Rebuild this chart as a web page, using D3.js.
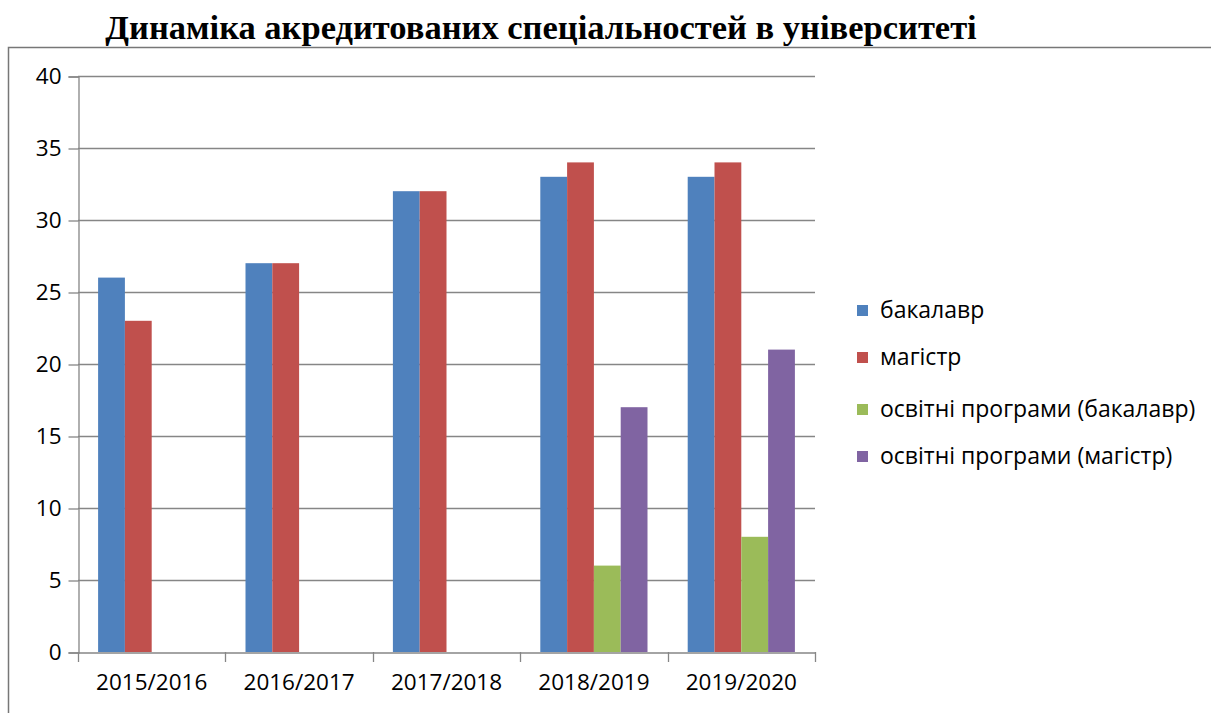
<!DOCTYPE html>
<html>
<style>
    body {
      margin: 0;
      overflow: hidden;
      background: white;
    }
    text {
      font-family: "Open Sans", "Noto Sans", sans-serif;
    }
</style>
<script src="https://cdn.jsdelivr.net/npm/d3@7"></script>
<svg></svg>
<script>
var years = ["2015/2016", "2016/2017", "2017/2018", "2018/2019", "2019/2020"];
var seriesNames = ["бакалавр", "магістр", "освітні програми (бакалавр)", "освітні програми (магістр)"];
var bachelor = [26, 27, 32, 33, 33];
var master = [23, 27, 32, 34, 34];
var progBachelor = [0, 0, 0, 6, 8];
var progMaster = [0, 0, 0, 17, 21];
var yTicks = [0, 5, 10, 15, 20, 25, 30, 35, 40];
var colors = ["#4F81BD", "#C0504D", "#9BBB59", "#8064A2"];

var allSeries = [bachelor, master, progBachelor, progMaster];

var width = 1211,
    height = 713;

var plotLeft = 78, plotRight = 815, plotTop = 76, plotBottom = 652;

var svg = d3.select("svg")
    .attr("width", width)
    .attr("height", height);

// frame of the page around chart
svg.append("path")
    .attr("d", "M8.5,713 V47.5 H1211")
    .style("fill", "none")
    .style("stroke", "#777")
    .style("stroke-width", 1.5);

svg.append("text")
    .attr("x", 541)
    .attr("y", 39)
    .attr("text-anchor", "middle")
    .style("font-family", "'Liberation Serif', 'DejaVu Serif', serif")
    .style("font-weight", "bold")
    .style("font-size", "34.5px")
    .text("Динаміка акредитованих спеціальностей в університеті");

var x = d3.scaleBand().domain(years).range([plotLeft, plotRight]);
var barW = x.bandwidth() / 5.5;
var x1 = d3.scaleBand().domain(d3.range(4)).range([barW * 0.75, barW * 4.75]);
var y = d3.scaleLinear().domain([0, 40]).range([plotBottom, plotTop]);

// gridlines
svg.append("g")
    .selectAll("line")
    .data(yTicks.slice(1))
  .enter().append("line")
    .attr("x1", plotLeft)
    .attr("x2", plotRight)
    .attr("y1", function(d) {return y(d) + 0.5})
    .attr("y2", function(d) {return y(d) + 0.5})
    .style("stroke", "#868686")
    .style("stroke-width", 1.3);

var yAxis = svg.append("g")
    .attr("transform", "translate(" + (plotLeft + 0.5) + ",0.5)")
    .call(d3.axisLeft(y).tickValues(yTicks).tickSize(10).tickPadding(7));

var xAxis = svg.append("g")
    .attr("transform", "translate(0," + (plotBottom + 0.5) + ")")
    .call(d3.axisBottom(x).tickSize(0).tickPadding(22));

// category boundary ticks
svg.append("g")
    .selectAll("line")
    .data(d3.range(years.length + 1))
  .enter().append("line")
    .attr("x1", function(i) {return Math.round(plotLeft + i * x.step()) + 0.5})
    .attr("x2", function(i) {return Math.round(plotLeft + i * x.step()) + 0.5})
    .attr("y1", plotBottom)
    .attr("y2", plotBottom + 10)
    .style("stroke", "#868686")
    .style("stroke-width", 1.3);

[yAxis, xAxis].forEach(function(a) {
  a.select(".domain").style("stroke", "#868686").style("stroke-width", 1.3);
  a.selectAll(".tick line").style("stroke", "#868686").style("stroke-width", 1.3);
  a.selectAll("text")
      .style("font-size", "22.5px")
      .style("font-family", "'Open Sans', 'Noto Sans', sans-serif")
      .style("fill", "#000");
});

var groups = svg.append("g")
    .selectAll("g")
    .data(years)
  .enter().append("g")
    .attr("transform", function(d) {return "translate(" + x(d) + ",0)"});

groups.selectAll("rect")
    .data(function(d, i) {return allSeries.map(function(s, j) {return {k: j, v: s[i]}})})
  .enter().append("rect")
    .attr("x", function(d) {return x1(d.k)})
    .attr("width", x1.bandwidth())
    .attr("y", function(d) {return y(d.v)})
    .attr("height", function(d) {return plotBottom - y(d.v)})
    .style("fill", function(d) {return colors[d.k]});

var legend = svg.append("g")
    .selectAll("g")
    .data(seriesNames)
  .enter().append("g")
    .attr("transform", function(d, i) {return "translate(857," + [310, 357, 409, 456][i] + ")"});

legend.append("rect")
    .attr("x", 0)
    .attr("y", -5)
    .attr("width", 11)
    .attr("height", 11)
    .style("fill", function(d, i) {return colors[i]});

legend.append("text")
    .attr("x", 23)
    .attr("y", 0)
    .attr("dy", "0.35em")
    .style("font-size", "23px")
    .text(function(d) {return d});
</script>
</html>
